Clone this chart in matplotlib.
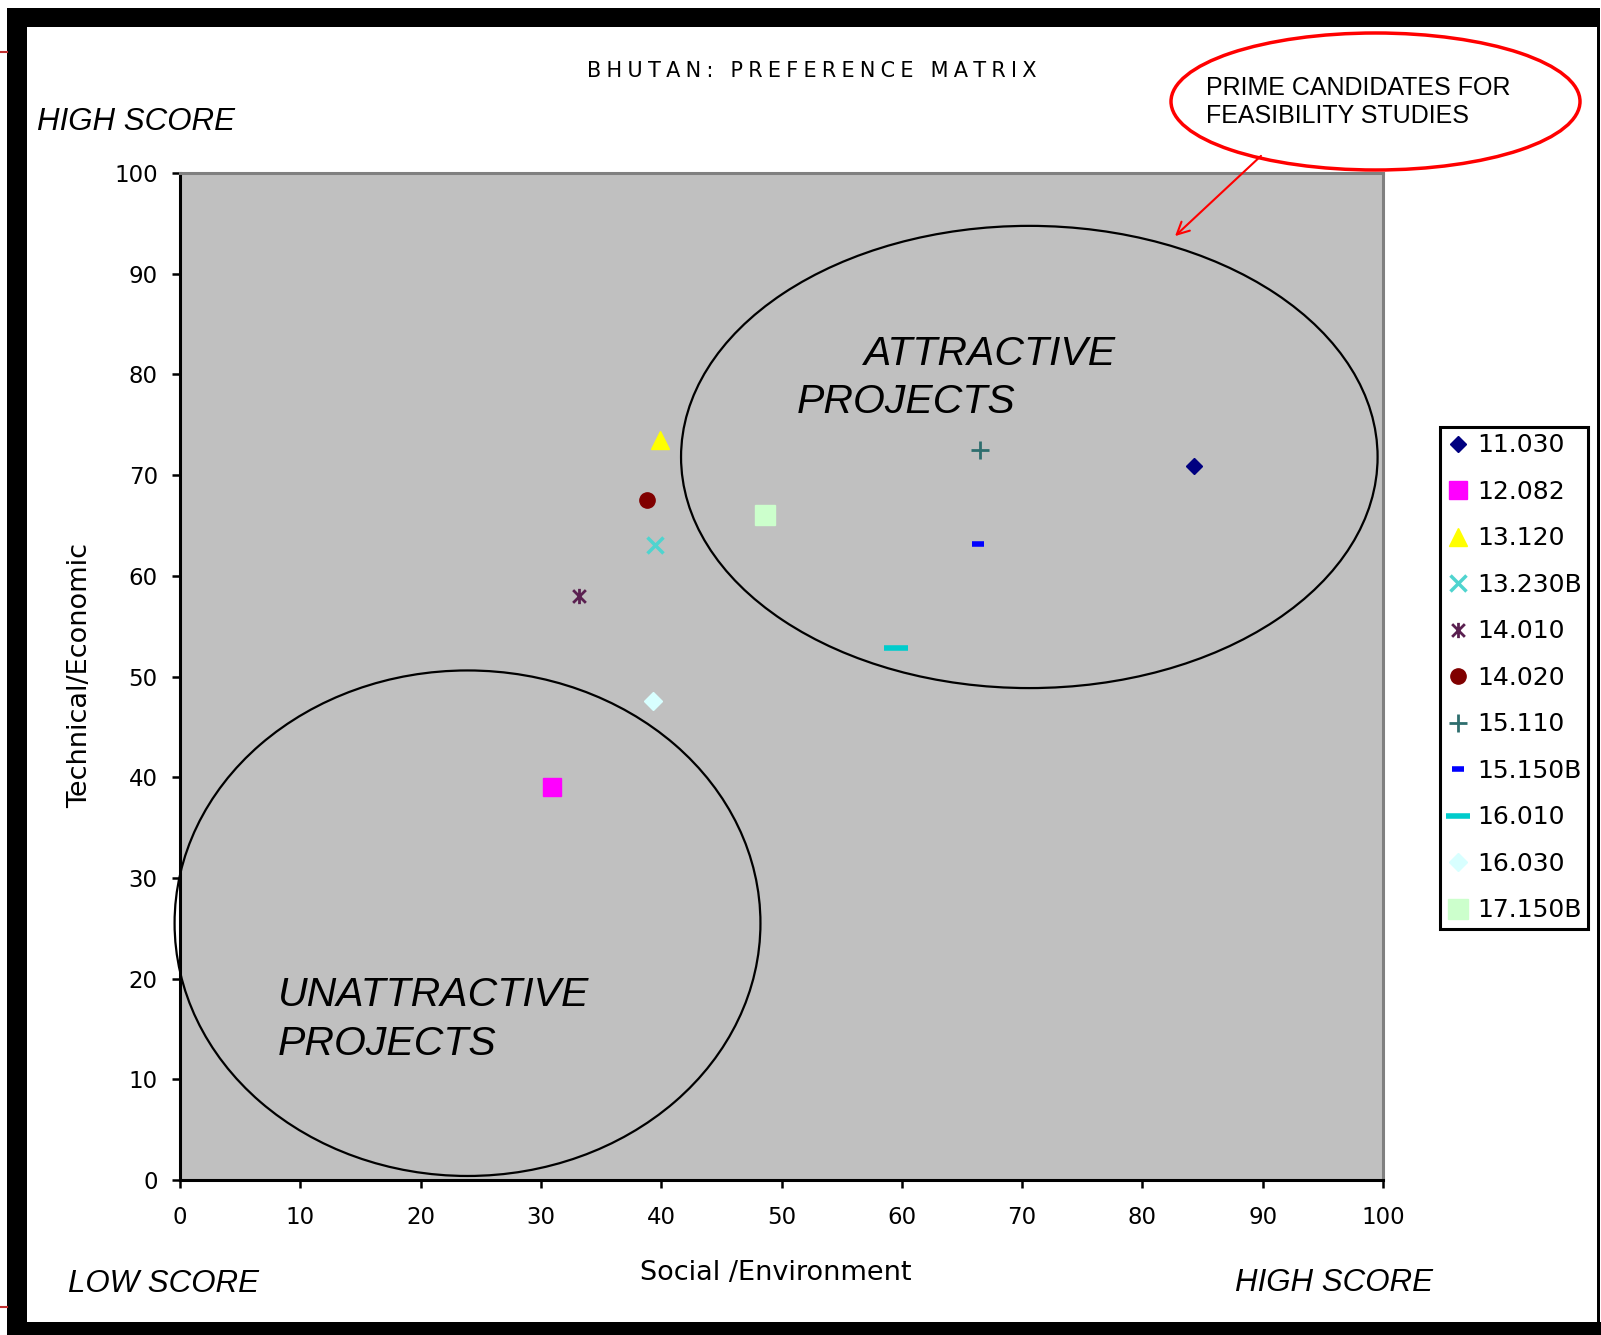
"""Bhutan preference matrix: projects scored on social/environmental vs
technical/economic criteria, with attractive / unattractive zones."""
import matplotlib
matplotlib.use("Agg")
import matplotlib.pyplot as plt
from matplotlib.patches import Ellipse, Rectangle, FancyArrowPatch
from matplotlib.lines import Line2D
from matplotlib.path import Path

W, H = 1601, 1335

projects = ["11.030", "12.082", "13.120", "13.230B", "14.010", "14.020",
            "15.110", "15.150B", "16.010", "16.030", "17.150B"]
social_env = [84.3, 30.9, 39.9, 39.5, 33.2, 38.8, 66.5, 66.3, 59.5, 39.3, 48.6]
tech_econ = [70.9, 39.0, 73.5, 63.1, 58.0, 67.5, 72.5, 63.2, 52.8, 47.6, 66.0]

x_ticks = list(range(0, 101, 10))
y_ticks = list(range(0, 101, 10))

# excel "star": an x with a vertical bar through it
STAR = Path([(-1, -1), (1, 1), (-1, 1), (1, -1), (0, -1.2), (0, 1.2)],
            [Path.MOVETO, Path.LINETO] * 3)

# excel-ish marker per project: marker, colour, size, edge width
STYLES = {
    "11.030": ("D", "#000080", 8, 1),
    "12.082": ("s", "#FF00FF", 13, 1),
    "13.120": ("^", "#FFFF00", 13, 1),
    "13.230B": ("x", "#4FD4CF", 11, 2.5),
    "14.010": (STAR, "#5A2050", 11, 2),
    "14.020": ("o", "#800000", 11, 1),
    "15.110": ("+", "#2E6E6E", 13, 2),
    "15.150B": ("_", "#0000FF", 9, 4),
    "16.010": ("_", "#00CCCC", 17, 4),
    "16.030": ("D", "#D8FFFF", 9, 1),
    "17.150B": ("s", "#CCFFCC", 14, 1),
}


def fxy(x, y):
    """pixel (from top-left) -> figure fraction"""
    return x / W, 1 - y / H


def spaced(s, gap="\u2005"):
    # letter-spaced caps, words a little further apart
    return (gap + " " + gap).join(gap.join(w) for w in s.split(" "))


def draw_frame(fig):
    black = dict(transform=fig.transFigure, color="black", lw=0)
    for x0, y0, x1, y1 in [(7, 8, 1598, 27), (7, 8, 27, 1335),
                           (7, 1322, 1601, 1335), (1597, 8, 1600, 1322)]:
        fx0, fy1 = fxy(x0, y0)
        fx1, fy0 = fxy(x1, y1)
        fig.add_artist(Rectangle((fx0, fy0), fx1 - fx0, fy1 - fy0, **black))
    for y in (52, 1307):
        fig.add_artist(Line2D([0, 7 / W], [1 - y / H] * 2, color="#C03030",
                              lw=1.5, transform=fig.transFigure))


def main():
    fig = plt.figure(figsize=(W / 100, H / 100), dpi=100)
    fig.patch.set_facecolor("white")
    draw_frame(fig)

    ax = fig.add_axes([180 / W, 1 - 1180 / H, (1383 - 180) / W, (1180 - 173) / H])
    ax.set_facecolor("#C0C0C0")
    ax.set_xlim(0, 100)
    ax.set_ylim(0, 100)
    ax.set_xticks(x_ticks)
    ax.set_yticks(y_ticks)
    for side in ("left", "bottom"):
        ax.spines[side].set_color("black")
        ax.spines[side].set_linewidth(2.2)
    for side in ("top", "right"):
        ax.spines[side].set_color("#808080")
        ax.spines[side].set_linewidth(2.2)
    ax.tick_params(direction="out", length=6, width=1.8, labelsize=16.5,
                   top=False, right=False)
    ax.tick_params(axis="x", pad=13)
    ax.tick_params(axis="y", pad=10)
    for lab in ax.get_xticklabels() + ax.get_yticklabels():
        lab.set_family("DejaVu Sans")

    for name, x, y in zip(projects, social_env, tech_econ):
        mk, col, ms, mew = STYLES[name]
        ax.plot([x], [y], ls="none", marker=mk, color=col, markersize=ms,
                markeredgewidth=mew, label=name, zorder=3)

    # attractive / unattractive zones
    ax.add_patch(Ellipse((70.6, 71.8), 57.9, 45.9, fill=False, ec="black",
                         lw=1.6, clip_on=False, zorder=2))
    ax.add_patch(Ellipse((23.9, 25.5), 48.7, 50.2, fill=False, ec="black",
                         lw=1.6, clip_on=False, zorder=2))

    zone_font = dict(fontsize=29.5, style="italic", family="Liberation Sans",
                     va="baseline", ha="left")
    fig.text(*fxy(863, 365), "ATTRACTIVE", **zone_font)
    fig.text(*fxy(797, 413), "PROJECTS", **zone_font)
    fig.text(*fxy(278, 1006), "UNATTRACTIVE", **zone_font)
    fig.text(*fxy(278, 1055), "PROJECTS", **zone_font)

    score_font = dict(fontsize=22.5, style="italic", family="Liberation Sans",
                      va="baseline", ha="left")
    fig.text(*fxy(37, 130), "HIGH SCORE", **score_font)
    fig.text(*fxy(68, 1292), "LOW SCORE", **score_font)
    fig.text(*fxy(1235, 1291), "HIGH SCORE", **score_font)

    fig.text(*fxy(812, 77), spaced("BHUTAN: PREFERENCE MATRIX"), fontsize=15,
             family="DejaVu Sans", ha="center", va="baseline")

    fig.text(*fxy(776, 1280), "Social /Environment", fontsize=19.5,
             family="DejaVu Sans", ha="center", va="baseline")
    fig.text(*fxy(87, 676), "Technical/Economic", fontsize=19.5,
             family="DejaVu Sans", ha="center", va="baseline",
             rotation=90, rotation_mode="anchor")

    # callout
    fig.add_artist(Ellipse(fxy(1375.5, 101.5), 409 / W, 137 / H, fill=False,
                           ec="red", lw=2.5, transform=fig.transFigure))
    fig.text(*fxy(1206, 95), "PRIME CANDIDATES FOR", fontsize=18,
             family="Liberation Sans", va="baseline")
    fig.text(*fxy(1206, 123), "FEASIBILITY STUDIES", fontsize=18,
             family="Liberation Sans", va="baseline")
    fig.add_artist(FancyArrowPatch(fxy(1263, 154), fxy(1173, 238),
                                   arrowstyle="->", mutation_scale=22,
                                   color="red", lw=1.5,
                                   transform=fig.transFigure))

    leg = ax.legend(loc="upper left", bbox_to_anchor=fxy(1440, 427),
                    bbox_transform=fig.transFigure, fancybox=False,
                    edgecolor="black", fontsize=18, labelspacing=0.9,
                    borderpad=0.25, handlelength=0.95, handletextpad=0.28,
                    borderaxespad=0, numpoints=1, framealpha=1)
    leg.get_frame().set_linewidth(2.2)
    for t in leg.get_texts():
        t.set_family("DejaVu Sans")

    fig.savefig("out.png", dpi=100)


if __name__ == "__main__":
    main()
